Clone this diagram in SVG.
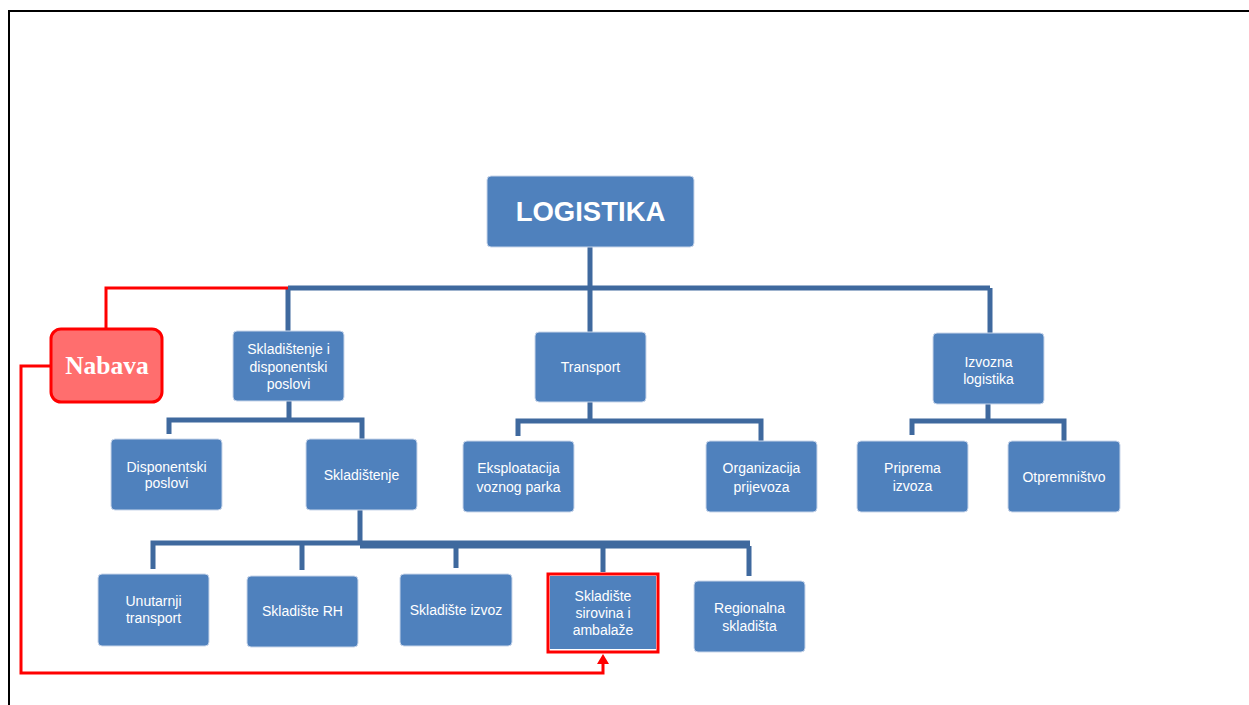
<svg xmlns="http://www.w3.org/2000/svg" width="1249" height="705" viewBox="0 0 1249 705">
<defs>
<style>
.box{fill:#4F81BD;stroke:#C9D6EA;stroke-width:1}
.t{fill:#fff;font-family:"Liberation Sans",Arial,sans-serif;font-size:14px;text-anchor:middle}
.c{fill:none;stroke:#3F699E;stroke-width:5}
.r{fill:none;stroke:#FF0000;stroke-width:3}
</style>
</defs>
<rect width="1249" height="705" fill="#fff"/>
<path d="M9,705 V11 H1249" fill="none" stroke="#000" stroke-width="2"/>

<g id="connectors">
<path class="c" d="M590,247 V288 M288,288 H990 M288,288 V331 M590,288 V332 M990,288 V333"/>
<path class="c" d="M289,401 V420 M169,434 V420 H362 V439"/>
<path class="c" d="M590,402 V421 M518,436 V421 H761 V441"/>
<path class="c" d="M988,404 V421 M912,435 V421 H1064 V441"/>
<path class="c" d="M360,510 V543 M153,569 V543 H750 M360,546 H750 M302,570 V543 M456,568 V543 M603,572 V543 M749,576 V546"/>
<path class="r" d="M288,288 H106 V328"/>
<path class="r" d="M50,366 H21 V673 H603 V662"/>
<polygon points="603,654 597,664 609,664" fill="#FF0000"/>
</g>

<g id="logistika"><rect class="box" x="487" y="176" width="207" height="71" rx="4"/><text x="590.5" y="221" fill="#fff" font-family="Liberation Sans,Arial,sans-serif" font-weight="bold" font-size="27.5" text-anchor="middle">LOGISTIKA</text></g>

<g id="nabava"><rect x="51" y="329" width="111" height="73" rx="10" fill="#FF6E6E" stroke="#FF0000" stroke-width="3"/><text x="107" y="374" fill="#fff" font-family="Liberation Serif,'Times New Roman',serif" font-weight="bold" font-size="25.5" text-anchor="middle">Nabava</text></g>

<g id="skladistenje-disp"><rect class="box" x="233" y="331" width="111" height="70" rx="4"/><text class="t" x="288.5" y="354">Skladištenje i</text><text class="t" x="288.5" y="371.5">disponentski</text><text class="t" x="288.5" y="389">poslovi</text></g>

<g id="transport"><rect class="box" x="535" y="332" width="111" height="70" rx="4"/><text class="t" x="590.5" y="372">Transport</text></g>

<g id="izvozna"><rect class="box" x="933" y="333" width="111" height="71" rx="4"/><text class="t" x="988.5" y="367">Izvozna</text><text class="t" x="988.5" y="383.5">logistika</text></g>

<g id="disponentski"><rect class="box" x="111" y="439" width="111" height="71" rx="4"/><text class="t" x="166.5" y="471.5">Disponentski</text><text class="t" x="166.5" y="488">poslovi</text></g>

<g id="skladistenje"><rect class="box" x="306" y="439" width="111" height="71" rx="4"/><text class="t" x="361.5" y="480">Skladištenje</text></g>

<g id="eksploatacija"><rect class="box" x="463" y="441" width="111" height="71" rx="4"/><text class="t" x="518.5" y="473">Eksploatacija</text><text class="t" x="518.5" y="491.5">voznog parka</text></g>

<g id="organizacija"><rect class="box" x="706" y="441" width="111" height="71" rx="4"/><text class="t" x="761.5" y="473">Organizacija</text><text class="t" x="761.5" y="491.5">prijevoza</text></g>

<g id="priprema"><rect class="box" x="857" y="441" width="111" height="71" rx="4"/><text class="t" x="912.5" y="472.5">Priprema</text><text class="t" x="912.5" y="490.5">izvoza</text></g>

<g id="otpremnistvo"><rect class="box" x="1008" y="441" width="112" height="71" rx="4"/><text class="t" x="1064" y="481.5">Otpremništvo</text></g>

<g id="unutarnji"><rect class="box" x="98" y="574" width="111" height="72" rx="4"/><text class="t" x="153.5" y="605.5">Unutarnji</text><text class="t" x="153.5" y="623">transport</text></g>

<g id="skladiste-rh"><rect class="box" x="247" y="576" width="111" height="71" rx="4"/><text class="t" x="302.5" y="616">Skladište RH</text></g>

<g id="skladiste-izvoz"><rect class="box" x="400" y="574" width="112" height="72" rx="4"/><text class="t" x="456" y="615">Skladište izvoz</text></g>

<g id="skladiste-sirovina"><rect x="548" y="574" width="110" height="78" fill="none" stroke="#FF0000" stroke-width="3"/><rect x="550" y="576" width="106" height="73" fill="#4F81BD"/><text class="t" x="603" y="600.5">Skladište</text><text class="t" x="603" y="618">sirovina i</text><text class="t" x="603" y="635">ambalaže</text></g>

<g id="regionalna"><rect class="box" x="694" y="581" width="111" height="71" rx="4"/><text class="t" x="749.5" y="612.5">Regionalna</text><text class="t" x="749.5" y="630.5">skladišta</text></g>
</svg>
